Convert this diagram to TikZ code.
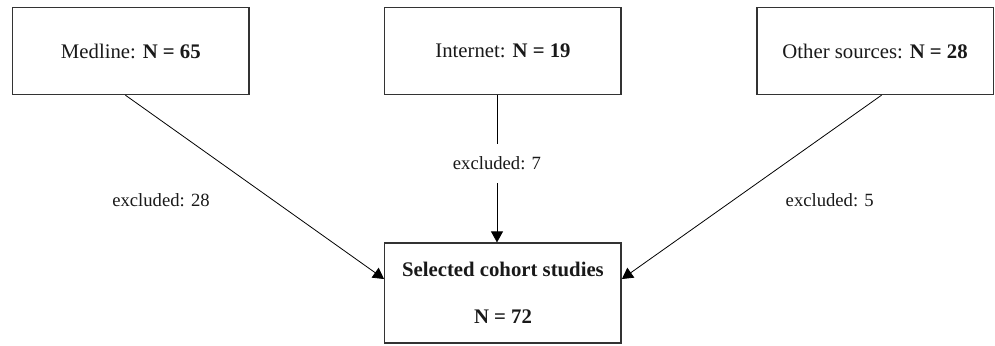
\documentclass[tikz,border=0pt]{standalone}
\usepackage{fontspec}
\setmainfont{Liberation Serif}
\usetikzlibrary{arrows.meta}

\begin{document}
\begin{tikzpicture}[
    box/.style={draw=black!80, line width=.7pt, anchor=center, minimum width=118.5pt,
      minimum height=43.5pt, align=center},
    every node/.style={font=\fontsize{10.4}{12.5}\selectfont, text=black!90},
    lbl/.style={font=\fontsize{9.35}{11}\selectfont},
    >={Triangle[length=5.5pt,width=6pt]}]
      \matrix[inner sep=0pt, column sep={186.5pt,between origins}, row sep={121.25pt,between origins}] at (0,0)
      {
        \node[box](A) {Medline: \textbf{N = 65}}; & \node[box](B) {Internet: \textbf{N = 19}}; &
        \node[box](C) {Other sources: \textbf{N = 28}}; \\
        & \node[box, minimum height=50pt](D) {\textbf{Selected cohort studies}\\[11pt]\textbf{N = 72}}; & \\
      };

      \useasboundingbox ([xshift=-6pt,yshift=3.5pt]A.north west) rectangle ([xshift=.5pt,yshift=-1pt]C.east |- D.south);

      \draw[->] ([xshift=-2.75pt]A.south) -- ([yshift=7pt]D.west)
        node[lbl, pos=.573, anchor=east, xshift=-28.5pt] {excluded: 28};
      \draw[->] ([xshift=-3pt]B.south) -- ([xshift=-3pt]B.south |- D.north)
        node[lbl, pos=.463, fill=white, inner xsep=1pt, inner ysep=6.5pt] {excluded: 7};
      \draw[->] ([xshift=3.25pt]C.south) -- ([yshift=7pt]D.east)
        node[lbl, pos=.573, anchor=west, xshift=23pt] {excluded: 5};
    \end{tikzpicture}
\end{document}
